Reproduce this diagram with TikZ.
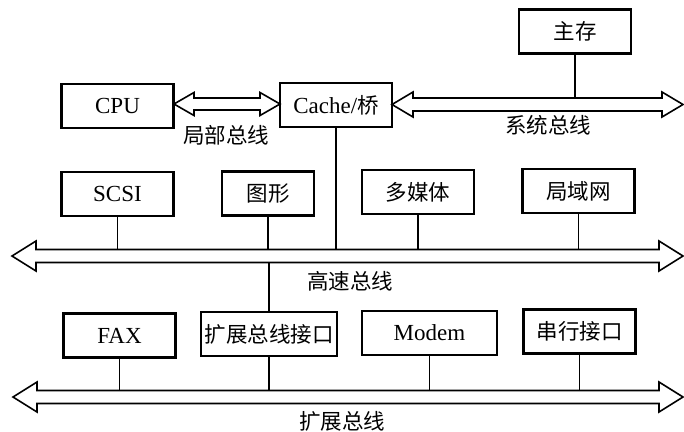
\documentclass[tikz,border=0pt]{standalone}
\usepackage{fontspec}
\setmainfont{Liberation Serif}
\newfontfamily\cjk{Noto Sans CJK SC}
\newcommand\mybus[6]{% xl, xr, center y, body half, head half, head length
  \draw[busline] (#1,#3) -- ({#1+#6},{#3-#5}) -- ({#1+#6},{#3-#4}) -- ({#2-#6},{#3-#4})
    -- ({#2-#6},{#3-#5}) -- (#2,#3) -- ({#2-#6},{#3+#5}) -- ({#2-#6},{#3+#4})
    -- ({#1+#6},{#3+#4}) -- ({#1+#6},{#3+#5}) -- cycle;}
\newcommand\cjkt[1]{{\cjk\fontsize{21.5bp}{23bp}\selectfont #1}}
\begin{document}
\begin{tikzpicture}[x=1bp,y=-1bp,
  box/.style={draw, line width=2.2bp, minimum height=44bp, minimum width=112bp, inner sep=0pt,
    font=\fontsize{23bp}{25bp}\selectfont},
  busline/.style={draw, line width=1.6bp, fill=white, line join=miter},
  link/.style={line width=1.1bp},
  lbl/.style={font=\cjk\fontsize{21.5bp}{23bp}\selectfont, inner sep=0pt}]
\useasboundingbox (0,0) rectangle (684,431);

% boxes
\node[box] (mem)   at (575,31.5)  {\cjkt{主存}};
\node[box] (cpu)   at (117.5,106) {CPU};
\node[box] (cache) at (336,105)   {Cache/\cjkt{桥}};

\node[box] (scsi)  at (117.5,194) {SCSI};
\node[box, minimum width=92bp] (gfx) at (268,193.5) {\cjkt{图形}};
\node[box] (mm)    at (418,192)   {\cjkt{多媒体}};
\node[box] (lan)   at (578.5,191) {\cjkt{局域网}};

\node[box] (fax)   at (119.5,335.5) {FAX};
\node[box, minimum width=136bp] (ebi) at (269,334) {\cjkt{扩展总线接口}};
\node[box, minimum width=135bp] (modem) at (429.5,333) {Modem};
\node[box] (ser)   at (579.5,331.5) {\cjkt{串行接口}};

% buses
\mybus{174}{280}{104}{6}{11.5}{20}
\mybus{392}{683}{104.5}{6.5}{12.5}{21}
\mybus{12}{683}{256}{6.5}{15}{24}
\mybus{13}{683}{397}{6.5}{15}{24}

\coordinate (sysTop) at (0,98);
\coordinate (hsTop)  at (0,249.5);
\coordinate (hsBot)  at (0,262.5);
\coordinate (expTop) at (0,390.5);

% labels
\node[lbl] (lblLocal) at (226,135) {局部总线};
\node[lbl] (lblSys)   at (548,125) {系统总线};
\node[lbl] (lblHS)    at (350,281) {高速总线};
\node[lbl] (lblExp)   at (342,421) {扩展总线};

% connectors
\draw[link] (mem.south) -- (mem.south |- sysTop);
\draw[link] (cache.south) -- (cache.south |- hsTop);
\draw[link] (scsi.south) -- (scsi.south |- hsTop);
\draw[link] (gfx.south) -- (gfx.south |- hsTop);
\draw[link] (mm.south) -- (mm.south |- hsTop);
\draw[link] (lan.south) -- (lan.south |- hsTop);
\draw[link] (ebi.north |- hsBot) -- (ebi.north);
\draw[link] (fax.south) -- (fax.south |- expTop);
\draw[link] (ebi.south) -- (ebi.south |- expTop);
\draw[link] (modem.south) -- (modem.south |- expTop);
\draw[link] (ser.south) -- (ser.south |- expTop);
\end{tikzpicture}
\end{document}
